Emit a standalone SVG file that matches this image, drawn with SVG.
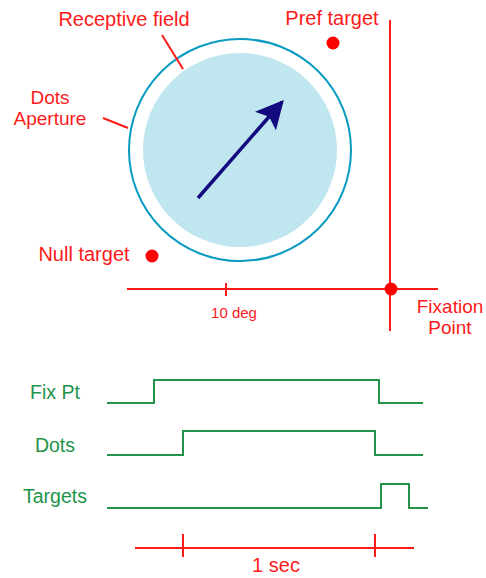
<svg xmlns="http://www.w3.org/2000/svg" width="486" height="578" viewBox="0 0 486 578">
  <style>
    text { font-family: "Liberation Sans", Arial, sans-serif; }
    .red { fill: #ff1a1a; font-size: 20px; }
    .red2 { fill: #ff1a1a; font-size: 19px; }
    .small { fill: #ff1a1a; font-size: 15px; }
    .grn { fill: #22944a; font-size: 19.5px; }
    .rl { stroke: #ff1a1a; stroke-width: 2; fill: none; }
    .trace { stroke: #22944a; stroke-width: 2; fill: none; }
    .dot { fill: #ff0000; }
  </style>
  <defs>
    <marker id="head" viewBox="0 0 10 10" refX="9" refY="5" markerWidth="8" markerHeight="8.5" markerUnits="strokeWidth" orient="auto">
      <path d="M0,0 L10,5 L0,10 L2,5 Z" fill="#140a80"/>
    </marker>
  </defs>

  <!-- receptive field and aperture -->
  <g id="aperture">
    <circle cx="240" cy="150" r="111" fill="#ffffff" stroke="#0a9cc0" stroke-width="2"/>
  </g>
  <g id="receptive-field">
    <circle cx="240" cy="150" r="97" fill="#c0e6ef"/>
  </g>
  <g id="motion">
    <line x1="198" y1="198" x2="282" y2="102" stroke="#140a80" stroke-width="3.5" marker-end="url(#head)"/>
  </g>

  <!-- screen axes -->
  <g id="axes">
    <line class="rl" x1="390" y1="20" x2="390" y2="331"/>
    <line class="rl" x1="127" y1="289" x2="438" y2="289"/>
    <line class="rl" x1="226" y1="283" x2="226" y2="296"/>
    <text class="small" x="234" y="318" text-anchor="middle">10 deg</text>
  </g>

  <g id="fixation-point">
    <circle class="dot" cx="391" cy="289" r="6.5"/>
    <text class="red2" x="450" y="313" text-anchor="middle">Fixation</text>
    <text class="red2" x="450" y="334" text-anchor="middle">Point</text>
  </g>
  <g id="pref-target">
    <circle class="dot" cx="333" cy="43" r="6.5"/>
    <text class="red" x="332" y="25" text-anchor="middle">Pref target</text>
  </g>
  <g id="null-target">
    <circle class="dot" cx="152" cy="256" r="6.5"/>
    <text class="red" x="84" y="261" text-anchor="middle">Null target</text>
  </g>

  <!-- callouts -->
  <g id="labels">
    <text class="red" x="124" y="26" text-anchor="middle">Receptive field</text>
    <line class="rl" x1="162" y1="35" x2="183" y2="69" stroke-width="2.5"/>
    <text class="red2" x="50" y="104" text-anchor="middle">Dots</text>
    <text class="red2" x="50" y="125" text-anchor="middle">Aperture</text>
    <line class="rl" x1="103" y1="118" x2="128" y2="128" stroke-width="2.5"/>
  </g>

  <!-- timing traces -->
  <g id="fix-pt">
    <text class="grn" x="55" y="399" text-anchor="middle">Fix Pt</text>
    <polyline class="trace" points="107,403 154,403 154,380 379,380 379,403 423,403"/>
  </g>
  <g id="dots">
    <text class="grn" x="55" y="452" text-anchor="middle">Dots</text>
    <polyline class="trace" points="107,455 183,455 183,431 375,431 375,455 423,455"/>
  </g>
  <g id="targets">
    <text class="grn" x="55" y="503" text-anchor="middle">Targets</text>
    <polyline class="trace" points="107,508 381,508 381,484 409,484 409,508 428,508"/>
  </g>

  <g id="time-scale">
    <line class="rl" x1="135" y1="548" x2="414" y2="548"/>
    <line class="rl" x1="183" y1="534" x2="183" y2="557" stroke-width="1.2"/>
    <line class="rl" x1="375" y1="534" x2="375" y2="557" stroke-width="1.2"/>
    <text class="red" x="276" y="572" text-anchor="middle">1 sec</text>
  </g>
</svg>
